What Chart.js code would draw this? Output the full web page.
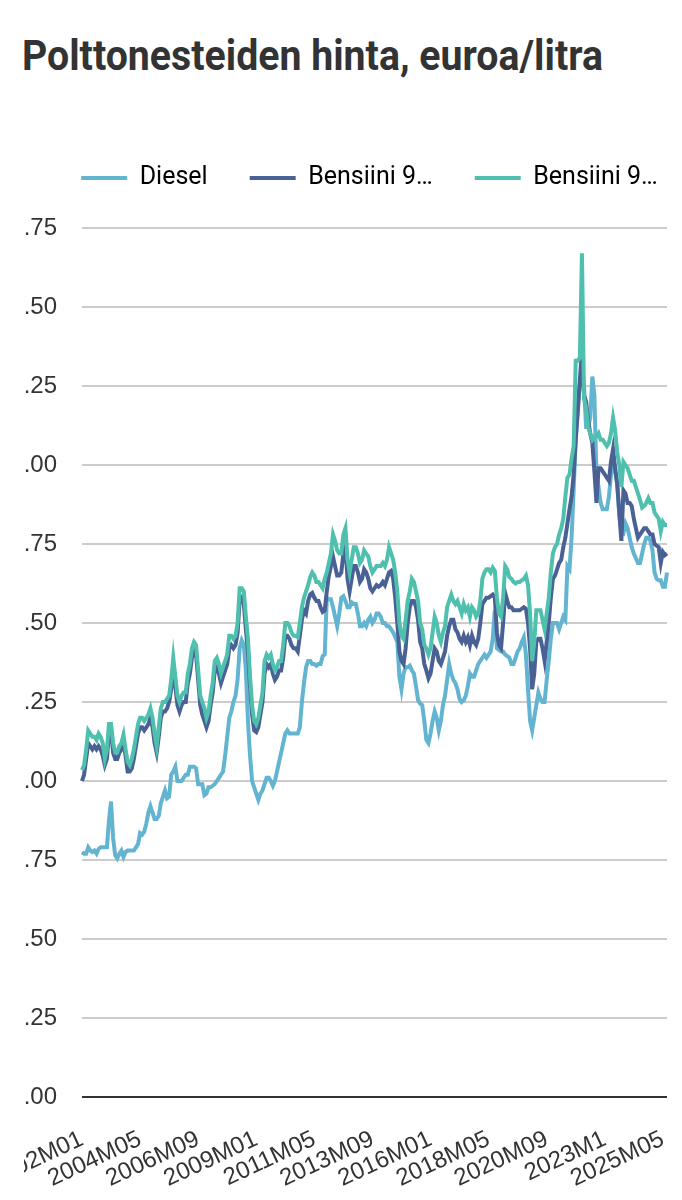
<!DOCTYPE html>
<html lang="fi">
<head>
<meta charset="utf-8">
<title>Polttonesteiden hinta</title>
<script src="https://cdn.jsdelivr.net/npm/chart.js@4"></script>
<style>
    html, body { margin: 0; padding: 0; background: #fff; overflow: hidden; }
    body { width: 682px; height: 1200px; position: relative; }
    #title {
        position: absolute; left: 22px; top: 35px; margin: 0;
        font: bold 42px/42px Roboto, sans-serif;
        color: #333; white-space: nowrap;
        transform: scaleX(0.935); transform-origin: 0 0;
    }
    #wrap { position: absolute; left: 24px; top: 100px; width: 658px; height: 1100px; overflow: hidden; }
    #chart { display: block; }
</style>
</head>
<body>
<h1 id="title">Polttonesteiden hinta, euroa/litra</h1>
<div id="wrap"><canvas id="chart" width="691" height="1100"></canvas></div>
<script>
// Categories: one per month, 2002M01 ... 2025M07.
const first_year = 2002;
const month_count = 283;
const months = [];
for (let i = 0; i < month_count; i++) {
    const m = (i % 12) + 1;
    months.push((first_year + Math.floor(i / 12)) + "M" + (m < 10 ? "0" + m : m));
}

// Tick labels on the x axis, one every 28 months.
const tick_step = 28;
const x_tick_labels = [
    "2002M01", "2004M05", "2006M09", "2009M01", "2011M05", "2013M09",
    "2016M01", "2018M05", "2020M09", "2023M1", "2025M05",
];

// Series, euro/litre, one row per year.
const diesel = [
    0.775, 0.77, 0.77, 0.79, 0.78, 0.775, 0.78, 0.77, 0.785, 0.79, 0.79, 0.79,
    0.79, 0.875, 0.935, 0.82, 0.765, 0.755, 0.77, 0.78, 0.76, 0.775, 0.78, 0.78,
    0.78, 0.78, 0.79, 0.80, 0.835, 0.83, 0.84, 0.865, 0.90, 0.92, 0.90, 0.88,
    0.88, 0.89, 0.93, 0.95, 0.97, 0.945, 0.95, 1.02, 1.03, 1.045, 1.00, 1.00,
    1.00, 1.01, 1.02, 1.02, 1.045, 1.045, 1.045, 1.04, 0.99, 0.99, 0.99, 0.955,
    0.96, 0.98, 0.98, 0.985, 0.99, 1.00, 1.01, 1.02, 1.03, 1.08, 1.14, 1.20,
    1.22, 1.25, 1.27, 1.32, 1.42, 1.445, 1.43, 1.35, 1.19, 1.08, 1.00, 0.98,
    0.96, 0.94, 0.96, 0.97, 0.99, 1.01, 1.01, 1.00, 0.985, 1.00, 1.03, 1.06,
    1.09, 1.12, 1.15, 1.16, 1.15, 1.15, 1.15, 1.15, 1.15, 1.17, 1.25, 1.31,
    1.36, 1.38, 1.38, 1.37, 1.37, 1.365, 1.37, 1.37, 1.395, 1.40, 1.58, 1.575,
    1.575, 1.55, 1.52, 1.49, 1.53, 1.58, 1.585, 1.57, 1.55, 1.55, 1.565, 1.56,
    1.56, 1.53, 1.49, 1.49, 1.50, 1.49, 1.51, 1.52, 1.50, 1.51, 1.53, 1.53,
    1.52, 1.50, 1.50, 1.49, 1.49, 1.48, 1.47, 1.455, 1.44, 1.33, 1.29, 1.34,
    1.36, 1.36, 1.365, 1.35, 1.34, 1.30, 1.256, 1.245, 1.24, 1.19, 1.13, 1.12,
    1.15, 1.19, 1.22, 1.20, 1.16, 1.19, 1.24, 1.27, 1.32, 1.37, 1.34, 1.32,
    1.31, 1.29, 1.26, 1.25, 1.255, 1.27, 1.30, 1.34, 1.33, 1.33, 1.35, 1.37,
    1.38, 1.39, 1.40, 1.39, 1.40, 1.41, 1.45, 1.54, 1.42, 1.415, 1.41, 1.41,
    1.40, 1.395, 1.39, 1.37, 1.37, 1.39, 1.41, 1.42, 1.44, 1.455, 1.40, 1.29,
    1.19, 1.16, 1.20, 1.24, 1.28, 1.26, 1.25, 1.25, 1.32, 1.38, 1.45, 1.50,
    1.50, 1.50, 1.48, 1.50, 1.52, 1.51, 1.68, 1.67, 1.77, 1.92, 2.08, 2.18,
    2.26, 2.26, 2.25, 2.12, 2.12, 2.15, 2.28, 2.22, 1.97, 1.93, 1.88, 1.86,
    1.86, 1.86, 1.90, 1.97, 2.015, 1.98, 1.94, 1.84, 1.79, 1.785, 1.815, 1.80,
    1.77, 1.74, 1.72, 1.705, 1.69, 1.69, 1.72, 1.75, 1.77, 1.77, 1.76, 1.73,
    1.66, 1.64, 1.635, 1.635, 1.615, 1.615, 1.66,
];

const bensiini95 = [
    1.00, 1.02, 1.07, 1.12, 1.11, 1.10, 1.11, 1.10, 1.11, 1.10, 1.08, 1.05,
    1.07, 1.15, 1.16, 1.09, 1.07, 1.07, 1.09, 1.10, 1.12, 1.08, 1.03, 1.03,
    1.04, 1.07, 1.11, 1.15, 1.17, 1.17, 1.16, 1.17, 1.18, 1.20, 1.17, 1.12,
    1.09, 1.14, 1.20, 1.22, 1.22, 1.23, 1.25, 1.29, 1.36, 1.30, 1.24, 1.22,
    1.24, 1.25, 1.25, 1.31, 1.34, 1.39, 1.41, 1.40, 1.32, 1.24, 1.21, 1.19,
    1.17, 1.19, 1.24, 1.28, 1.35, 1.36, 1.34, 1.31, 1.33, 1.35, 1.37, 1.42,
    1.43, 1.42, 1.43, 1.47, 1.57, 1.58, 1.56, 1.48, 1.41, 1.30, 1.21, 1.16,
    1.155, 1.17, 1.21, 1.25, 1.34, 1.37, 1.36, 1.37, 1.34, 1.32, 1.33, 1.35,
    1.35, 1.39, 1.46, 1.46, 1.45, 1.43, 1.42, 1.42, 1.41, 1.46, 1.51, 1.54,
    1.53, 1.57, 1.59, 1.595, 1.58, 1.57, 1.57, 1.55, 1.535, 1.54, 1.60, 1.65,
    1.68, 1.71, 1.68, 1.65, 1.65, 1.66, 1.72, 1.74, 1.64, 1.60, 1.64, 1.68,
    1.68, 1.66, 1.63, 1.64, 1.67, 1.66, 1.64, 1.61, 1.60, 1.61, 1.62, 1.615,
    1.62, 1.63, 1.62, 1.64, 1.66, 1.665, 1.64, 1.58, 1.50, 1.41, 1.38, 1.37,
    1.42, 1.50, 1.55, 1.57, 1.57, 1.55, 1.51, 1.44, 1.42, 1.37, 1.35, 1.325,
    1.34, 1.38, 1.42, 1.41, 1.38, 1.37, 1.39, 1.41, 1.46, 1.49, 1.51, 1.51,
    1.48, 1.47, 1.45, 1.44, 1.46, 1.44, 1.455, 1.43, 1.46, 1.44, 1.43, 1.45,
    1.50, 1.56, 1.57, 1.58, 1.58, 1.585, 1.59, 1.58, 1.47, 1.43, 1.42, 1.50,
    1.595, 1.57, 1.55, 1.55, 1.54, 1.54, 1.54, 1.54, 1.545, 1.55, 1.545, 1.50,
    1.42, 1.29, 1.34, 1.44, 1.45, 1.45, 1.42, 1.38, 1.44, 1.50, 1.58, 1.64,
    1.65, 1.67, 1.69, 1.70, 1.74, 1.77, 1.815, 1.86, 1.90, 1.97, 2.08, 2.17,
    2.27, 2.36, 2.22, 2.20, 2.14, 2.10, 2.07, 1.98, 1.88, 1.99, 1.99, 1.98,
    1.97, 1.96, 1.95, 2.01, 2.05, 1.99, 1.94, 1.85, 1.76, 1.92, 1.91, 1.88,
    1.88, 1.87, 1.83, 1.80, 1.77, 1.78, 1.79, 1.80, 1.80, 1.79, 1.78, 1.78,
    1.75, 1.745, 1.74, 1.69, 1.725, 1.715, 1.72,
];

const bensiini98 = [
    1.035, 1.05, 1.10, 1.16, 1.15, 1.14, 1.14, 1.13, 1.15, 1.14, 1.12, 1.07,
    1.10, 1.18, 1.18, 1.12, 1.09, 1.09, 1.11, 1.12, 1.146, 1.10, 1.06, 1.05,
    1.07, 1.10, 1.14, 1.18, 1.20, 1.20, 1.19, 1.20, 1.21, 1.23, 1.20, 1.15,
    1.11, 1.17, 1.23, 1.25, 1.25, 1.26, 1.27, 1.32, 1.39, 1.33, 1.27, 1.25,
    1.27, 1.28, 1.28, 1.34, 1.37, 1.42, 1.44, 1.43, 1.35, 1.27, 1.25, 1.23,
    1.20, 1.22, 1.27, 1.31, 1.38, 1.39, 1.37, 1.34, 1.36, 1.38, 1.40, 1.46,
    1.46, 1.45, 1.46, 1.50, 1.61, 1.61, 1.60, 1.52, 1.45, 1.33, 1.24, 1.19,
    1.18, 1.20, 1.24, 1.28, 1.38, 1.40, 1.39, 1.40, 1.37, 1.35, 1.36, 1.38,
    1.38, 1.43, 1.50, 1.50, 1.49, 1.47, 1.46, 1.46, 1.455, 1.50, 1.55, 1.58,
    1.60, 1.62, 1.645, 1.66, 1.65, 1.63, 1.63, 1.62, 1.61, 1.64, 1.66, 1.69,
    1.72, 1.78, 1.76, 1.73, 1.72, 1.72, 1.78, 1.80, 1.70, 1.66, 1.70, 1.74,
    1.74, 1.72, 1.69, 1.70, 1.73, 1.72, 1.71, 1.68, 1.66, 1.67, 1.68, 1.68,
    1.68, 1.69, 1.68, 1.70, 1.74, 1.72, 1.70, 1.66, 1.60, 1.50, 1.46, 1.45,
    1.51, 1.57, 1.60, 1.64, 1.63, 1.60, 1.57, 1.50, 1.48, 1.43, 1.42, 1.40,
    1.42, 1.47, 1.52, 1.50, 1.46, 1.44, 1.47, 1.49, 1.55, 1.57, 1.59, 1.57,
    1.56, 1.57, 1.55, 1.53, 1.56, 1.54, 1.55, 1.52, 1.55, 1.54, 1.52, 1.53,
    1.57, 1.64, 1.66, 1.67, 1.67, 1.66, 1.675, 1.665, 1.58, 1.53, 1.52, 1.58,
    1.68, 1.67, 1.645, 1.64, 1.63, 1.625, 1.63, 1.63, 1.635, 1.64, 1.65, 1.62,
    1.53, 1.38, 1.44, 1.54, 1.54, 1.54, 1.51, 1.48, 1.53, 1.58, 1.66, 1.72,
    1.74, 1.75, 1.78, 1.80, 1.83, 1.90, 1.96, 1.97, 2.02, 2.06, 2.33, 2.33,
    2.34, 2.67, 2.21, 2.18, 2.12, 2.10, 2.08, 2.09, 2.09, 2.10, 2.08, 2.08,
    2.07, 2.06, 2.07, 2.10, 2.15, 2.11, 2.04, 2.00, 1.93, 2.01, 2.00, 1.99,
    1.97, 1.95, 1.95, 1.93, 1.91, 1.89, 1.865, 1.87, 1.88, 1.895, 1.88, 1.88,
    1.85, 1.84, 1.83, 1.79, 1.82, 1.81, 1.81,
];

const colors = ["#63b4d0", "#4a6195", "#4fbfae"];

// Draw graph.
function draw_graph() {
    const ctx = document.getElementById('chart');

    const data = {
        labels: months,
        datasets: [
            { label: 'Diesel', data: diesel, borderColor: colors[0], backgroundColor: colors[0], order: 3 },
            { label: 'Bensiini 95 E10', data: bensiini95, borderColor: colors[1], backgroundColor: colors[1], order: 2 },
            { label: 'Bensiini 98 E5', data: bensiini98, borderColor: colors[2], backgroundColor: colors[2], order: 1 },
        ]
    };

    const config = {
        type: 'line',
        data: data,
        options: {
            responsive: false,
            animation: false,
            devicePixelRatio: 1,
            layout: {
                padding: { left: 0, top: 23.5, right: 0, bottom: 0 },
            },
            elements: {
                line: { borderWidth: 4, tension: 0 },
                point: { radius: 0 },
            },
            plugins: {
                legend: {
                    align: 'center',
                    labels: {
                        boxWidth: 46,
                        boxHeight: 4,
                        padding: 42,
                        color: '#222',
                        font: { family: 'Roboto, sans-serif', size: 25, lineHeight: 1 },
                        // Long names are cut like in the original legend.
                        generateLabels: (chart) => chart.data.datasets.map((ds, i) => ({
                            text: ds.label.length > 10 ? ds.label.slice(0, 10) + '…' : ds.label,
                            fillStyle: ds.borderColor,
                            strokeStyle: ds.borderColor,
                            lineWidth: 0,
                            hidden: false,
                            datasetIndex: i,
                        })),
                    },
                },
                // Empty subtitle, only used as a gap between legend and plot.
                subtitle: {
                    display: true,
                    text: '',
                    weight: 500,
                    font: { size: 1, lineHeight: 1 },
                    padding: { top: 0, bottom: 26.5 },
                },
                tooltip: { enabled: false },
            },
            scales: {
                x: {
                    grid: { display: false },
                    border: { display: false },
                    ticks: {
                        autoSkip: false,
                        minRotation: 25,
                        maxRotation: 25,
                        padding: 20,
                        color: '#333',
                        font: { family: '"Liberation Sans", sans-serif', size: 24 },
                        callback: (value, index) => index % tick_step == 0 ? x_tick_labels[index / tick_step] : null,
                    },
                    // The first label is left outside the canvas, as in the original.
                    afterFit: (scale) => {
                        scale.height = 103;
                        scale.paddingLeft = 0;
                        scale.paddingRight = 48;
                    },
                },
                y: {
                    min: 0,
                    max: 2.75,
                    grid: {
                        drawTicks: false,
                        lineWidth: 2,
                        color: (c) => c.tick.value == 0 ? '#333' : '#cccccc',
                    },
                    border: { display: false },
                    ticks: {
                        stepSize: 0.25,
                        padding: 25,
                        color: '#333',
                        font: { family: '"Liberation Sans", sans-serif', size: 24 },
                        callback: (value) => value.toFixed(2),
                    },
                    afterFit: (scale) => {
                        scale.width = 58;
                    },
                },
            },
        },
    };

    window.myChart = new Chart(ctx, config);
}

draw_graph();
</script>
</body>
</html>
